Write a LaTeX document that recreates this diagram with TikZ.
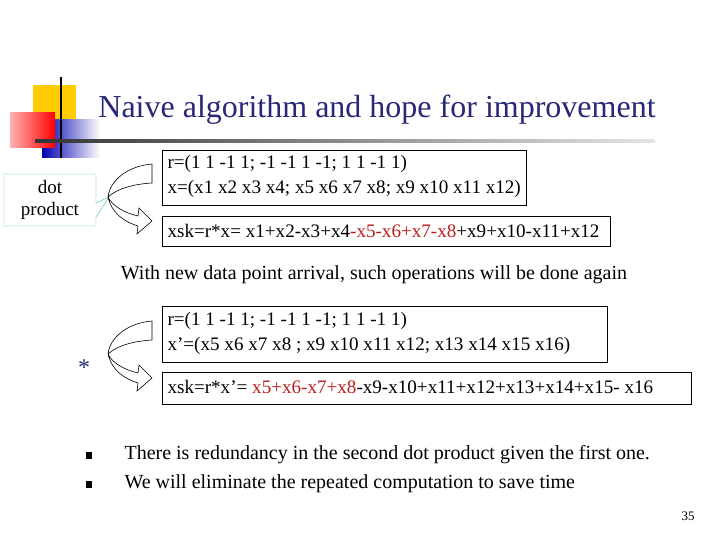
\documentclass[tikz,border=0pt]{standalone}
\usepackage{fontspec}
\setmainfont{Liberation Serif}
\definecolor{titleblue}{RGB}{40,40,120}
\definecolor{teal2}{RGB}{60,190,175}
\definecolor{dred}{RGB}{190,30,30}
\definecolor{lyel}{RGB}{255,204,0}
\begin{document}
\begin{tikzpicture}[x=1pt,y=-1pt,
  body/.style={font=\fontsize{19.1}{23}\selectfont},
  barrow/.style={draw,fill=white,line width=0.6pt}]
\useasboundingbox (0,0) rectangle (720,540);
% logo
\fill[lyel] (33,85) rectangle (76,128);
\shade[left color=blue!70!black, right color=white] (42,120) rectangle (100,158);
\shade[left color=red!30, right color=red] (10,113) rectangle (55,148);
\draw[line width=2.5pt] (61,77) -- (61,158);
\shade[left color=black!80, right color=black!10] (35,140) rectangle (655,142.5);
\node[font=\fontsize{32}{36}\selectfont, text=titleblue] (title) at (377,110) {Naive algorithm and hope for improvement};
% boxes
\draw[thick] (162,150) rectangle (526,205);
\node[body,anchor=west] (b1a) at (164,164) {r=(1 1 -1 1; -1 -1 1 -1; 1 1 -1 1)};
\node[body,anchor=west] (b1b) at (164,189) {x=(x1 x2 x3 x4; x5 x6 x7 x8; x9 x10 x11 x12)};
\draw[thick] (162,216) rectangle (610,246);
\node[body,anchor=west] (b2) at (164,231) {xsk=r*x= x1+x2-x3+x4\textcolor{dred}{-x5-x6+x7-x8}+x9+x10-x11+x12};
\node[font=\fontsize{20}{24}\selectfont] (mid) at (374,275) {With new data point arrival, such operations will be done again};
\draw[thick] (162,306) rectangle (607,362);
\node[body,anchor=west] (b3a) at (164,321) {r=(1 1 -1 1; -1 -1 1 -1; 1 1 -1 1)};
\node[body,anchor=west] (b3b) at (164,346) {x’=(x5 x6 x7 x8 ; x9 x10 x11 x12; x13 x14 x15 x16)};
\draw[thick] (162,372) rectangle (691,404);
\node[body,anchor=west] (b4) at (164,387) {xsk=r*x’= \textcolor{dred}{x5+x6-x7+x8}-x9-x10+x11+x12+x13+x14+x15- x16};
% callout
\draw[teal2,fill=white] (4,174) -- (96,174) -- (96,203) -- (109,197) -- (96,217) -- (96,226) -- (4,226) -- cycle;
\node[font=\fontsize{19}{22}\selectfont, align=center] (dp) at (50,200) {dot\\product};
% curved block arrows
\foreach \dy in {0,157}{
\begin{scope}[yshift=-\dy]
\path[barrow] (152,164) .. controls (128,166) and (110,180) .. (108,197)
  .. controls (112,214) and (125,222) .. (138,226) -- (137,234) -- (152,221) -- (139,208)
  -- (138,216) .. controls (125,213) and (112,206) .. (108,197)
  .. controls (118,188) and (135,184) .. (152,183) -- cycle;
\end{scope}}
\node[font=\fontsize{24}{24}\selectfont, text=titleblue] (star) at (84,368) {*};
% bullets
\fill (86,452) rectangle (92,459);
\fill (86,481) rectangle (92,488);
\node[font=\fontsize{20}{24}\selectfont,anchor=west] (t1) at (121,455) {There is redundancy in the second dot product given the first one.};
\node[font=\fontsize{20}{24}\selectfont,anchor=west] (t2) at (121,484) {We will eliminate the repeated computation to save time};
\node[font=\fontsize{13}{13}\selectfont] (pn) at (688,516) {35};
\end{tikzpicture}
\end{document}
